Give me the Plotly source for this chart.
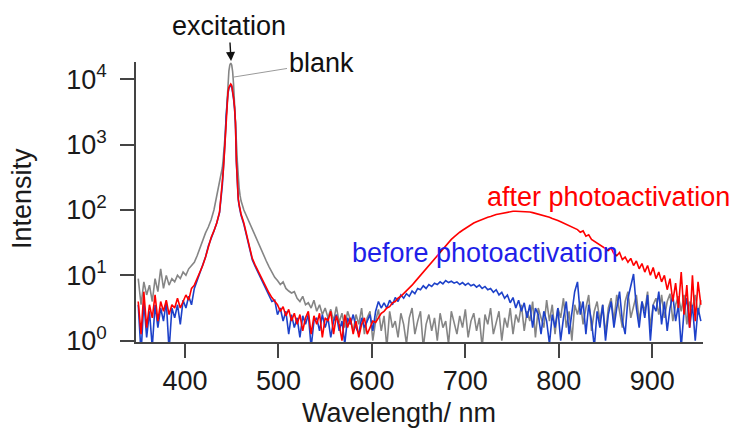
import plotly.graph_objects as go

# Sampling grid (nm): coarse on the wings, 1 nm across the excitation line
wavelength = list(range(350, 438, 3)) + list(range(440, 461)) + list(range(463, 954, 3))

# Emission intensities stored as log10(counts)
blank_log10 = [
    0.95, 0.55, 0.9, 0.7, 0.85, 0.6, 0.95, 0.75, 1.1, 0.8,
    1.0, 0.85, 0.95, 0.9, 1.0, 0.95, 1.05, 1.0, 1.1, 1.15,
    1.2, 1.3, 1.42, 1.55, 1.65, 1.74, 1.85, 2.0, 2.2, 2.45,
    # 440-460
    2.65, 2.8, 2.95, 3.15, 3.4, 3.7, 3.95, 4.13, 4.22, 4.25, 4.22,
    4.12, 3.92, 3.68, 3.4, 3.05, 2.75, 2.5, 2.33, 2.22, 2.14,
    # 463-953
    2.0, 1.9, 1.8, 1.7, 1.6, 1.5, 1.4, 1.3, 1.22, 1.13,
    1.04, 0.97, 0.92, 0.86, 0.9, 0.8, 0.76, 0.73, 0.75, 0.65,
    0.6, 0.68, 0.55, 0.58, 0.5, 0.62, 0.45, 0.55, 0.4, 0.5,
    0.35, 0.48, 0.3, 0.52, 0.28, 0.42, 0.2, 0.45, 0.32, 0.15,
    0.4, 0.25, 0.5, 0.1, 0.35, 0.45, 0.0, 0.3, 0.48, 0.15,
    0.38, -0.1, 0.45, 0.2, 0.3, 0.05, 0.42, 0.25, -0.05, 0.35,
    0.5, 0.1, 0.3, 0.45, -0.1, 0.25, 0.4, 0.15, 0.35, 0.0,
    0.42, 0.2, 0.3, -0.05, 0.45, 0.25, 0.1, 0.38, 0.2, 0.48,
    0.05, 0.3, 0.42, 0.15, 0.35, -0.1, 0.4, 0.25, 0.5, 0.1,
    0.3, 0.45, 0.0, 0.35, 0.2, 0.5, 0.1, 0.4, 0.28, 0.55,
    0.15, 0.45, 0.3, 0.6, 0.05, 0.5, 0.35, 0.2, 0.62, 0.3,
    0.55, 0.1, 0.5, 0.35, 0.65, 0.2, 0.45, 0.0, 0.55, 0.4,
    0.6, 0.25, 0.5, 0.7, 0.15, 0.45, 0.6, 0.3, 0.55, 0.1,
    0.5, 0.65, 0.3, 0.7, 0.45, 0.2, 0.6, 0.75, 0.35, 0.55,
    0.7, 0.3, 0.6, 0.45, 0.75, 0.2, 0.55, 0.65, 0.4, 0.7,
    0.35, 0.6, 0.72, 0.3, 0.55, 0.68, 0.45, 0.7, 0.25, 0.6,
    0.5, 0.7, 0.4, 0.62,
]

before_log10 = [
    0.55, -0.2, 0.6, 0.05, 0.45, -0.1, 0.55, 0.2, 0.5, 0.3,
    0.6, -0.15, 0.5, 0.35, 0.55, 0.25, 0.62, 0.5, 0.68, 0.55,
    0.8, 0.92, 1.05, 1.15, 1.28, 1.45, 1.58, 1.68, 1.8, 1.96,
    # 440-460
    2.38, 2.58, 2.8, 3.08, 3.43, 3.63, 3.78, 3.86, 3.9, 3.91, 3.89,
    3.82, 3.7, 3.56, 3.33, 2.73, 2.28, 2.16, 2.06, 1.98, 1.92,
    # 463-953
    1.78, 1.6, 1.43, 1.24, 1.14, 1.05, 0.97, 0.88, 0.78, 0.7,
    0.6, 0.62, 0.4, 0.5, 0.3, 0.45, 0.1, 0.4, 0.2, 0.35,
    0.05, 0.38, 0.25, 0.4, -0.1, 0.3, 0.35, 0.15, 0.4, 0.2,
    0.35, 0.05, 0.3, 0.4, 0.15, 0.3, -0.05, 0.35, 0.25, 0.4,
    0.2, 0.1, 0.35, 0.2, 0.3, 0.4, 0.15, 0.45, 0.6, 0.5,
    0.58, 0.5, 0.62, 0.55, 0.66, 0.6, 0.7, 0.65, 0.72, 0.68,
    0.76, 0.72, 0.8, 0.78, 0.84, 0.8, 0.86, 0.83, 0.88, 0.86,
    0.9, 0.87, 0.92, 0.89, 0.91, 0.88, 0.9, 0.86, 0.89, 0.85,
    0.88, 0.84, 0.86, 0.82, 0.85, 0.8, 0.83, 0.78, 0.8, 0.74,
    0.78, 0.7, 0.74, 0.65, 0.7, 0.58, 0.66, 0.5, 0.62, 0.45,
    0.58, 0.35, 0.55, 0.2, 0.5, 0.4, 0.1, 0.45, 0.3, -0.05,
    0.4, 0.2, 0.5, 0.0, 0.35, 0.6, 0.1, 0.45, 0.75, 0.9,
    0.4, 0.6, 0.1, 0.55, 0.3, -0.1, 0.45, 0.2, 0.55, 0.0,
    0.4, 0.6, 0.2, 0.5, 0.75, 0.3, 0.1, 0.65, 0.85, 1.02,
    0.5, 0.2, 0.6, 0.35, 0.7, 0.0, 0.55, 0.45, 0.75, 0.25,
    0.6, 0.15, 0.5, 0.7, 0.3, 0.55, -0.1, 0.45, 0.65, 0.2,
    0.55, 0.0, 0.5, 0.3,
]

after_log10 = [
    0.6, 0.1, 0.75, 0.2, 0.55, 0.35, 0.7, 0.3, 0.6, 0.45,
    0.62, 0.4, 0.55, 0.5, 0.65, 0.5, 0.6, 0.7, 0.62, 0.8,
    0.85, 0.95, 1.05, 1.15, 1.28, 1.45, 1.58, 1.68, 1.8, 1.97,
    # 440-460
    2.4, 2.6, 2.82, 3.1, 3.45, 3.65, 3.8, 3.88, 3.92, 3.93, 3.91,
    3.84, 3.72, 3.58, 3.35, 2.75, 2.3, 2.18, 2.08, 2.0, 1.94,
    # 463-953
    1.8, 1.62, 1.45, 1.26, 1.16, 1.07, 0.99, 0.9, 0.82, 0.73,
    0.66, 0.6, 0.55, 0.45, 0.52, 0.38, 0.48, 0.3, 0.42, 0.25,
    0.4, 0.15, 0.35, 0.45, 0.1, 0.38, 0.25, 0.42, 0.05, 0.35,
    0.3, 0.45, 0.1, 0.38, 0.25, 0.0, 0.4, 0.2, 0.35, 0.1,
    0.3, 0.05, 0.25, 0.35, 0.1, 0.2, 0.3, 0.28, 0.35, 0.42,
    0.45, 0.5, 0.52, 0.58, 0.6, 0.65, 0.68, 0.72, 0.76, 0.8,
    0.85, 0.9, 0.95, 1.0, 1.06, 1.1, 1.15, 1.2, 1.25, 1.3,
    1.36, 1.41, 1.46, 1.51, 1.55, 1.59, 1.63, 1.66, 1.69, 1.72,
    1.75, 1.78, 1.8, 1.82, 1.84, 1.86, 1.88, 1.89, 1.9, 1.92,
    1.93, 1.94, 1.95, 1.96, 1.97, 1.97, 1.98, 1.98, 1.98, 1.98,
    1.98, 1.97, 1.97, 1.96, 1.95, 1.94, 1.93, 1.92, 1.9, 1.89,
    1.87, 1.86, 1.84, 1.82, 1.8, 1.79, 1.76, 1.74, 1.73, 1.7,
    1.66, 1.68, 1.6, 1.62, 1.55, 1.52, 1.5, 1.46, 1.44, 1.4,
    1.38, 1.42, 1.33, 1.3, 1.35, 1.24, 1.28, 1.2, 1.26, 1.15,
    1.22, 1.1, 1.18, 1.05, 1.15, 1.0, 1.12, 0.95, 1.05, 0.9,
    1.0, 0.78, 0.95, 0.6, 0.88, 0.5, 1.05, 0.4, 0.85, 0.2,
    1.0, 0.3, 0.9, 0.55,
]

for series in (blank_log10, before_log10, after_log10):
    assert len(series) == len(wavelength), (len(series), len(wavelength))

y_tick_values = [1, 10, 100, 1000, 10000]
y_tick_labels = ["10<sup>0</sup>", "10<sup>1</sup>", "10<sup>2</sup>", "10<sup>3</sup>", "10<sup>4</sup>"]
x_tick_values = [400, 500, 600, 700, 800, 900]

FONT = "Liberation Sans, Arial, sans-serif"
AXIS_COLOR = "#444444"
TEXT_COLOR = "#1a1a1a"

fig = go.Figure()
fig.add_trace(go.Scatter(x=wavelength, y=[10 ** v for v in blank_log10], mode="lines",
                         line=dict(color="#858585", width=1.6), name="blank"))
fig.add_trace(go.Scatter(x=wavelength, y=[10 ** v for v in before_log10], mode="lines",
                         line=dict(color="#1d41c9", width=1.6), name="before photoactivation"))
fig.add_trace(go.Scatter(x=wavelength, y=[10 ** v for v in after_log10], mode="lines",
                         line=dict(color="#ff0000", width=1.6), name="after photoactivation"))

fig.update_layout(
    width=732, height=428,
    margin=dict(l=136, r=29, t=62, b=86),
    paper_bgcolor="white", plot_bgcolor="white",
    showlegend=False,
    font=dict(family=FONT, color=TEXT_COLOR),
)
fig.update_xaxes(
    range=[347.6, 954.3], showgrid=False, zeroline=False,
    showline=True, linecolor=AXIS_COLOR, linewidth=1.5,
    ticks="outside", ticklen=14, tickwidth=1.5, tickcolor=AXIS_COLOR,
    tickvals=x_tick_values, tickfont=dict(size=27, family=FONT, color=TEXT_COLOR),
    ticklabelstandoff=0, automargin=False,
)
fig.update_yaxes(
    type="log", range=[-0.02, 4.265], showgrid=False, zeroline=False,
    showline=True, linecolor=AXIS_COLOR, linewidth=1.5,
    ticks="outside", ticklen=14, tickwidth=1.5, tickcolor=AXIS_COLOR,
    tickvals=y_tick_values, ticktext=y_tick_labels,
    tickfont=dict(size=27, family=FONT, color=TEXT_COLOR),
    ticklabelstandoff=8, automargin=False,
)

plot_w = 732 - 136 - 29
plot_h = 428 - 62 - 86

def px(x):
    return (x - 136) / plot_w

def py(y):
    return (428 - 86 - y) / plot_h

def label(text, x, y, color=TEXT_COLOR, size=27, angle=0):
    fig.add_annotation(text=text, xref="paper", yref="paper", x=px(x), y=py(y),
                       xanchor="center", yanchor="middle", showarrow=False,
                       textangle=angle, font=dict(size=size, family=FONT, color=color))

label("Wavelength/ nm", 399, 413)
label("Intensity", 22, 199, angle=-90)
label("after photoactivation", 608, 197, color="#ff0000")
label("before photoactivation", 485, 253, color="#1f1fe8")

# Excitation marker pointing at the scattered laser line
fig.add_annotation(text="excitation", xref="x", yref="paper",
                   x=449.3, y=py(61), ax=-2, ay=-35,
                   xanchor="center", yanchor="middle",
                   showarrow=True, arrowhead=2, arrowsize=1.3, arrowwidth=1.4,
                   arrowcolor="#111111",
                   font=dict(size=27, family=FONT, color="#111111"))
# Leader from the blank label to its peak
fig.add_annotation(text="blank", xref="paper", yref="paper",
                   x=px(234), y=py(77), ax=87, ay=-14,
                   xanchor="center", yanchor="middle",
                   showarrow=True, arrowhead=0, arrowwidth=1, arrowcolor="#9a9a9a",
                   font=dict(size=27, family=FONT, color="#111111"))

fig.write_html("out.html")
